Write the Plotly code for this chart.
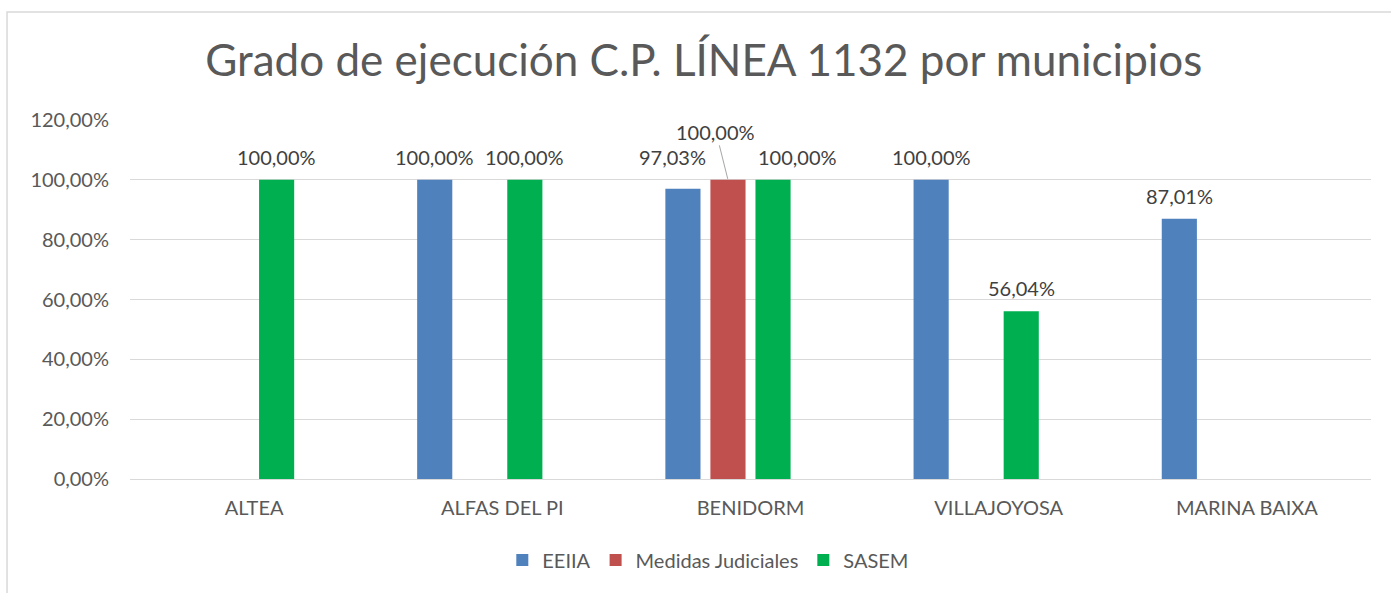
import plotly.graph_objects as go

categories = ["ALTEA", "ALFAS DEL PI", "BENIDORM", "VILLAJOYOSA", "MARINA BAIXA"]
eeiia = [None, 100.00, 97.03, 100.00, 87.01]
medidas = [None, None, 100.00, None, None]
sasem = [100.00, 100.00, 100.00, 56.04, None]
empty_series = [None, None, None, None, None]
ytick_vals = [0, 20, 40, 60, 80, 100, 120]
ytick_text = ["0,00%", "20,00%", "40,00%", "60,00%", "80,00%", "100,00%", "120,00%"]

FONT = "Lato"
GREY = "#595959"
LBL = "#404040"
SLOT_PX = 45  # pixel pitch of bar slots within a group


def fmt(v):
    return "" if v is None else f"{v:.2f}".replace(".", ",") + "%"


def bar(name, vals, color):
    return go.Bar(name=name, x=categories, y=vals, marker_color=color,
                  marker_line_width=0, hoverinfo="x+y")


fig = go.Figure()
fig.add_trace(bar("EEIIA", eeiia, "#4f81bd"))
fig.add_trace(bar("Medidas Judiciales", medidas, "#c0504d"))
fig.add_trace(bar("SASEM", sasem, "#00b050"))
fig.add_trace(go.Bar(name="", x=categories, y=empty_series, showlegend=False,
                     marker_color="rgba(0,0,0,0)", hoverinfo="skip"))

# data labels (series index 0 = EEIIA, 2 = SASEM), manual nudges as in the original
nudges = {(0, 2): (-11, 9), (2, 2): (24, 0)}
for si, vals in ((0, eeiia), (2, sasem)):
    for ci, v in enumerate(vals):
        if v is None:
            continue
        dx, dy = nudges.get((si, ci), (0, 0))
        fig.add_annotation(x=ci, y=v, xref="x", yref="y", text=fmt(v), showarrow=False,
                           xshift=(si - 1.5) * SLOT_PX + dx, yshift=23 + dy,
                           yanchor="middle", xanchor="center",
                           font=dict(size=20, color=LBL, family=FONT))

# red bar label with leader line (BENIDORM)
fig.add_annotation(x=2 - 0.5 * SLOT_PX / 248, y=medidas[2], xref="x", yref="y",
                   text=fmt(medidas[2]), showarrow=True, arrowhead=0, arrowwidth=1,
                   arrowcolor="#a6a6a6", ax=-12, ay=-48, standoff=1,
                   font=dict(size=20, color=LBL, family=FONT))

# chart border
fig.add_shape(type="rect", xref="paper", yref="paper", x0=-0.0991, x1=1.05,
              y0=-0.34, y1=1.3008, line=dict(color="#d9d9d9", width=1.5),
              fillcolor="rgba(0,0,0,0)", layer="below")

fig.update_layout(
    width=1391, height=593,
    margin=dict(l=130, r=20, t=120, b=114),
    paper_bgcolor="white", plot_bgcolor="white",
    font=dict(family=FONT, color=GREY, size=20),
    title=dict(text="Grado de ejecución C.P. LÍNEA 1132 por municipios",
               x=0.506, xanchor="center", y=0.898, yanchor="middle",
               font=dict(size=44, color=GREY, family=FONT)),
    barmode="group", bargap=0.274, bargroupgap=0.22,
    showlegend=True,
    legend=dict(orientation="h", x=0.466, xanchor="center", y=-0.2256, yanchor="middle",
                font=dict(size=20, color=GREY, family=FONT), itemwidth=30,
                traceorder="normal"),
    xaxis=dict(showgrid=False, showline=False, ticks="", ticklabelstandoff=15,
               tickfont=dict(size=20, color=GREY, family=FONT)),
    yaxis=dict(range=[0, 120], tickvals=ytick_vals, ticktext=ytick_text,
               showgrid=True, gridcolor="#d9d9d9", gridwidth=1,
               zeroline=True, zerolinecolor="#d9d9d9", zerolinewidth=1,
               showline=False, ticks="", ticklabelstandoff=20,
               tickfont=dict(size=20, color=GREY, family=FONT)),
)

fig.write_html("out.html", config={"displayModeBar": False},
               post_script="document.body.style.margin='0';")
